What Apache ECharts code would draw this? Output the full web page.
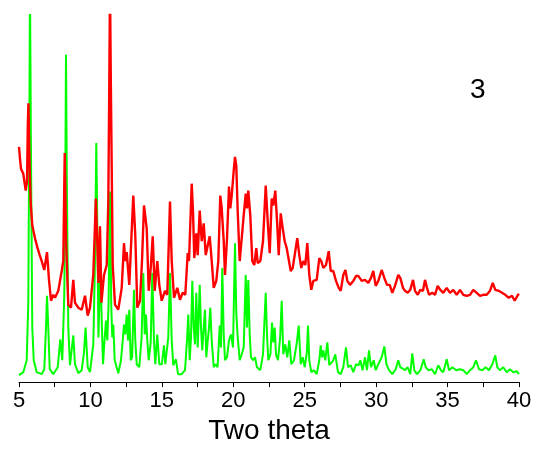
<!DOCTYPE html>
<html>
<head>
<meta charset="utf-8">
<script src="https://cdn.jsdelivr.net/npm/echarts@6/dist/echarts.min.js"></script>
<style>html,body{margin:0;padding:0;background:#fff}#c{width:535px;height:450px}</style>
</head>
<body>
<div id="c"></div>
<script>
var xTicks = [5, 10, 15, 20, 25, 30, 35, 40];
var xAxisName = 'Two theta';
var panelLabel = '3';

var greenSeries = [[5.0,7],[5.3,10],[5.54,22],[5.65,80],[5.72,250],[5.77,400],[5.83,250],[5.93,55],[6.03,22],[6.24,10],[6.59,8],[6.77,13],[6.89,55],[6.96,87],[7.05,55],[7.15,13],[7.4,8],[7.71,15],[7.89,43],[8.03,22],[8.17,88],[8.24,200],[8.29,330],[8.35,200],[8.45,55],[8.57,17],[8.8,47],[8.92,18],[9.15,9],[9.39,12],[9.55,30],[9.66,55],[9.81,15],[9.97,10],[10.2,38],[10.32,122],[10.41,241],[10.51,122],[10.56,45],[10.69,118],[10.79,62],[10.88,18],[11.0,45],[11.09,62],[11.18,42],[11.27,80],[11.37,192],[11.46,75],[11.53,45],[11.6,58],[11.7,22],[11.95,9],[12.14,22],[12.26,42],[12.35,58],[12.44,48],[12.54,68],[12.63,42],[12.72,73],[12.82,22],[12.92,25],[13.05,93],[13.14,42],[13.24,18],[13.42,15],[13.58,45],[13.7,110],[13.8,48],[13.89,68],[13.98,42],[14.08,22],[14.22,40],[14.33,110],[14.45,42],[14.54,18],[14.68,48],[14.82,18],[15.0,18],[15.15,37],[15.24,18],[15.45,45],[15.57,110],[15.69,42],[15.8,17],[15.99,23],[16.13,8],[16.39,8],[16.62,12],[16.76,42],[16.85,68],[16.95,22],[17.04,45],[17.13,102],[17.23,55],[17.32,38],[17.41,90],[17.51,35],[17.65,98],[17.74,55],[17.83,32],[17.93,55],[18.02,73],[18.11,25],[18.2,40],[18.3,55],[18.39,75],[18.49,42],[18.63,15],[18.77,18],[18.9,15],[19.05,57],[19.14,35],[19.23,115],[19.33,48],[19.42,22],[19.56,25],[19.7,42],[19.84,48],[19.98,35],[20.12,140],[20.21,70],[20.31,45],[20.45,22],[20.59,28],[20.73,35],[20.87,108],[20.96,55],[21.05,103],[21.15,48],[21.24,25],[21.38,22],[21.52,25],[21.66,15],[21.89,12],[22.08,28],[22.27,90],[22.36,48],[22.45,22],[22.6,28],[22.71,60],[22.8,40],[22.9,55],[22.99,28],[23.13,22],[23.28,45],[23.39,82],[23.5,28],[23.64,38],[23.78,25],[23.92,42],[24.06,18],[24.25,22],[24.45,40],[24.58,57],[24.72,18],[24.86,25],[25.0,15],[25.15,30],[25.23,57],[25.32,22],[25.46,10],[25.65,12],[25.84,8],[26.02,22],[26.12,37],[26.21,25],[26.3,32],[26.44,22],[26.58,40],[26.72,17],[26.86,15],[27.0,22],[27.14,28],[27.33,10],[27.52,8],[27.7,15],[27.89,35],[28.03,15],[28.22,17],[28.4,10],[28.59,18],[28.78,17],[28.89,22],[29.05,12],[29.22,25],[29.36,12],[29.5,32],[29.64,15],[29.83,22],[29.97,12],[30.15,18],[30.39,25],[30.57,36],[30.72,18],[30.9,12],[31.13,8],[31.37,13],[31.55,22],[31.69,15],[31.83,13],[32.02,12],[32.2,15],[32.39,8],[32.53,29],[32.67,12],[32.86,8],[33.1,12],[33.33,23],[33.47,15],[33.65,12],[33.9,13],[34.12,8],[34.35,17],[34.54,12],[34.7,10],[34.94,23],[35.1,12],[35.34,15],[35.6,12],[35.87,13],[36.1,12],[36.34,8],[36.57,12],[36.8,15],[36.99,22],[37.2,13],[37.43,12],[37.66,15],[37.9,12],[38.13,18],[38.34,27],[38.48,15],[38.66,12],[38.9,15],[39.14,10],[39.37,13],[39.6,10],[39.84,11],[40.0,8]];

var redSeries = [[5.0,237],[5.07,225],[5.14,215],[5.3,210],[5.47,193],[5.56,202],[5.62,260],[5.66,281],[5.72,230],[5.82,180],[5.93,158],[6.12,145],[6.3,135],[6.45,128],[6.59,122],[6.77,113],[6.96,131],[7.1,103],[7.24,82],[7.4,88],[7.52,85],[7.75,92],[7.99,112],[8.1,122],[8.2,231],[8.3,140],[8.45,78],[8.64,75],[8.8,103],[8.92,80],[9.15,75],[9.39,73],[9.62,87],[9.81,67],[9.97,75],[10.2,108],[10.3,150],[10.38,185],[10.48,140],[10.56,100],[10.67,157],[10.77,80],[10.95,108],[11.14,118],[11.25,180],[11.32,300],[11.37,400],[11.43,300],[11.56,118],[11.72,78],[11.95,73],[12.19,95],[12.35,140],[12.44,122],[12.54,131],[12.72,98],[12.86,97],[13.0,188],[13.14,148],[13.28,75],[13.47,82],[13.61,122],[13.75,178],[13.94,155],[14.08,92],[14.22,115],[14.36,147],[14.5,92],[14.68,122],[14.82,98],[14.99,82],[15.22,92],[15.38,88],[15.57,182],[15.69,122],[15.85,85],[16.08,95],[16.27,83],[16.46,90],[16.64,88],[16.81,130],[16.9,122],[17.09,200],[17.18,172],[17.27,125],[17.41,150],[17.51,128],[17.65,173],[17.79,142],[17.93,160],[18.07,128],[18.2,128],[18.35,147],[18.49,122],[18.63,95],[18.81,102],[18.95,122],[19.09,188],[19.19,175],[19.33,142],[19.42,108],[19.56,145],[19.7,197],[19.79,175],[19.89,188],[20.03,213],[20.12,227],[20.21,218],[20.31,172],[20.45,122],[20.59,145],[20.73,168],[20.87,190],[20.96,175],[21.05,193],[21.19,168],[21.33,122],[21.47,118],[21.61,135],[21.71,120],[21.89,122],[22.08,142],[22.27,198],[22.41,162],[22.55,130],[22.69,185],[22.8,178],[22.94,193],[23.08,158],[23.18,128],[23.32,170],[23.46,155],[23.6,142],[23.74,135],[23.88,137],[24.02,112],[24.16,115],[24.34,132],[24.48,145],[24.62,128],[24.76,115],[24.9,122],[25.04,118],[25.18,140],[25.32,108],[25.46,93],[25.6,102],[25.84,103],[26.02,125],[26.16,122],[26.3,115],[26.49,118],[26.68,132],[26.82,112],[27.0,112],[27.19,102],[27.38,95],[27.52,92],[27.7,108],[27.85,113],[27.98,102],[28.17,98],[28.4,102],[28.6,107],[28.75,107],[28.99,102],[29.22,103],[29.45,100],[29.64,105],[29.8,112],[29.97,97],[30.15,102],[30.39,113],[30.57,105],[30.76,98],[30.95,98],[31.13,90],[31.32,97],[31.55,108],[31.69,105],[31.88,95],[32.02,92],[32.21,90],[32.39,93],[32.58,103],[32.72,92],[32.91,88],[33.09,93],[33.28,92],[33.42,103],[33.56,95],[33.7,88],[33.93,90],[34.12,88],[34.31,97],[34.49,93],[34.7,90],[34.94,95],[35.17,90],[35.4,93],[35.64,88],[35.87,93],[36.1,88],[36.34,87],[36.57,88],[36.8,93],[37.04,90],[37.27,87],[37.5,88],[37.74,88],[37.97,92],[38.16,100],[38.34,93],[38.58,92],[38.81,90],[39.04,88],[39.28,85],[39.51,87],[39.7,82],[39.93,88],[40.0,89]];

var chart = echarts.init(document.getElementById('c'), null, {renderer: 'canvas'});
var fontFam = '"Liberation Sans", Arial, sans-serif';
chart.setOption({
  animation: false,
  backgroundColor: '#ffffff',
  grid: {left: 19, right: 16, top: 15, bottom: 65, containLabel: false},
  xAxis: {
    type: 'value',
    min: xTicks[0], max: xTicks[xTicks.length - 1], interval: 5,
    name: xAxisName, nameLocation: 'middle', nameGap: 33,
    nameTextStyle: {color: '#000', fontSize: 28, fontFamily: fontFam},
    axisLine: {show: true, onZero: false, lineStyle: {color: '#000', width: 1}},
    axisTick: {show: true, inside: false, length: 5, lineStyle: {color: '#000'}},
    minorTick: {show: true, splitNumber: 2, length: 5, lineStyle: {color: '#000'}},
    splitLine: {show: false},
    axisLabel: {color: '#000', fontSize: 22, fontFamily: fontFam, margin: 8}
  },
  yAxis: {
    type: 'value', min: 0, max: 370, show: false,
    splitLine: {show: false}
  },
  graphic: [{
    type: 'text', left: 470, top: 76,
    style: {text: panelLabel, fill: '#000', font: '28px ' + fontFam}
  }],
  series: [
    {type: 'line', data: greenSeries, showSymbol: false, smooth: false, clip: true,
     lineStyle: {color: '#00FF00', width: 2}, itemStyle: {color: '#00FF00'}},
    {type: 'line', data: redSeries, showSymbol: false, smooth: false, clip: true,
     lineStyle: {color: '#FF0000', width: 2.4}, itemStyle: {color: '#FF0000'}}
  ]
});
</script>
</body>
</html>
